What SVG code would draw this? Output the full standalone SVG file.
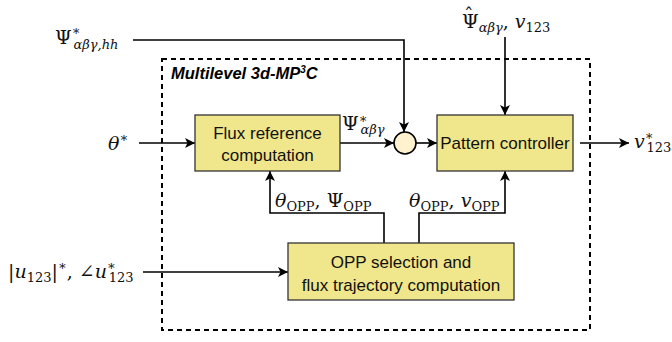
<svg xmlns="http://www.w3.org/2000/svg" width="672" height="342" viewBox="0 0 672 342">
<style>
.box{fill:#F0E68C;stroke:#333;stroke-width:1.3}
.bt{font-family:"Liberation Sans",Arial,sans-serif;font-size:17px;fill:#111;text-anchor:middle}
.m{font-family:"DejaVu Serif","Liberation Serif",serif;font-size:19px;fill:#111}
.i{font-style:italic}
.s{font-size:13px}
.w{fill:none;stroke:#000;stroke-width:1.6}
</style>
<defs>
<marker id="ah" viewBox="0 0 10 10" refX="10" refY="5" markerWidth="10" markerHeight="10" markerUnits="userSpaceOnUse" orient="auto">
<path d="M0,0 L10,5 L0,10 L2.5,5 z" fill="#000"/>
</marker>
</defs>
<rect x="0" y="0" width="672" height="342" fill="#fff"/>
<g id="frame">
<rect x="162" y="59" width="428" height="271" fill="none" stroke="#000" stroke-width="2" stroke-dasharray="5,4"/>
<text x="171" y="79" font-family="Liberation Sans,Arial,sans-serif" font-size="16.5" font-weight="bold" font-style="italic" fill="#000">Multilevel 3d-MP<tspan font-size="10" dy="-6">3</tspan><tspan dy="6">C</tspan></text>
</g>
<g id="connectors">
<path class="w" d="M133,40 H404 V132" marker-end="url(#ah)"/>
<path class="w" d="M505,37 V115" marker-end="url(#ah)"/>
<path class="w" d="M139,143 H195" marker-end="url(#ah)"/>
<path class="w" d="M340,143 H394" marker-end="url(#ah)"/>
<path class="w" d="M416,143 H437" marker-end="url(#ah)"/>
<path class="w" d="M580,143 H629" marker-end="url(#ah)"/>
<path class="w" d="M143,272 H288" marker-end="url(#ah)"/>
<path class="w" d="M384,243 V213 H270 V171" marker-end="url(#ah)"/>
<path class="w" d="M419,243 V213 H505 V171" marker-end="url(#ah)"/>
</g>
<g id="flux">
<rect class="box" x="195" y="115" width="145" height="56"/>
<text class="bt" x="267.5" y="139">Flux reference</text>
<text class="bt" x="267.5" y="161">computation</text>
</g>
<g id="sum">
<circle cx="405" cy="143" r="11" fill="#FFF2CF" stroke="#000" stroke-width="1.6"/>
</g>
<g id="pattern">
<rect class="box" x="437" y="115" width="136" height="56"/>
<text class="bt" x="505" y="149">Pattern controller</text>
</g>
<g id="opp">
<rect class="box" x="288" y="243" width="226" height="57"/>
<text class="bt" x="401" y="268">OPP selection and</text>
<text class="bt" x="401" y="291">flux trajectory computation</text>
</g>
<g id="labels">
<text class="m" x="55" y="44">Ψ<tspan class="s" dy="-9">∗</tspan><tspan class="s i" dx="-7" dy="14">αβγ,hh</tspan></text>
<text class="m" x="464" y="22" font-size="17">ˆ</text>
<text class="m" x="462" y="28">Ψ<tspan class="s i" dy="4">αβγ</tspan><tspan dy="-4">, </tspan><tspan class="i">v</tspan><tspan class="s" dy="4">123</tspan></text>
<text class="m i" x="108" y="150" font-size="21">θ<tspan class="s" font-style="normal" dy="-8">∗</tspan></text>
<text class="m" x="342" y="130" font-size="17">Ψ<tspan class="s" dy="-7">∗</tspan><tspan class="s i" dx="-7" dy="11">αβγ</tspan></text>
<text class="m i" x="634" y="148">v<tspan class="s" font-style="normal" dy="-8">∗</tspan><tspan class="s" font-style="normal" dx="-7" dy="12">123</tspan></text>
<text class="m" x="275" y="207" font-size="18"><tspan class="i">θ</tspan><tspan class="s" dy="4">OPP</tspan><tspan dy="-4">, Ψ</tspan><tspan class="s" dy="4">OPP</tspan></text>
<text class="m" x="409" y="207" font-size="18"><tspan class="i">θ</tspan><tspan class="s" dy="4">OPP</tspan><tspan dy="-4">, </tspan><tspan class="i">v</tspan><tspan class="s" dy="4">OPP</tspan></text>
<text class="m" x="8" y="278">|<tspan class="i">u</tspan><tspan class="s" dy="4">123</tspan><tspan dy="-4">|</tspan><tspan class="s" dy="-8">∗</tspan><tspan dy="8">, ∠</tspan><tspan class="i">u</tspan><tspan class="s" dy="-8">∗</tspan><tspan class="s" dx="-7" dy="12">123</tspan></text>
</g>
</svg>
